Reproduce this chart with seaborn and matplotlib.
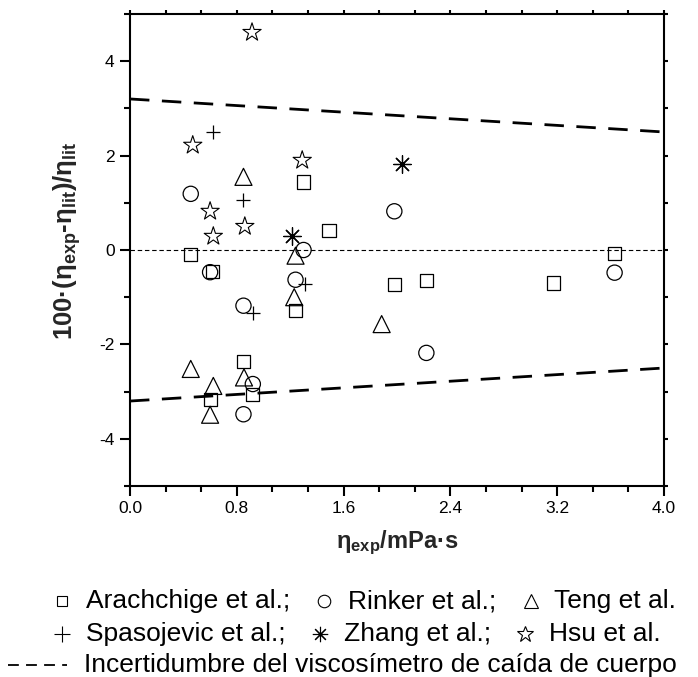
import matplotlib
matplotlib.use("Agg")
import matplotlib.pyplot as plt
from matplotlib.lines import Line2D
import seaborn as sns

# ---------------- data ----------------
arach_x = [0.455, 0.62, 0.60, 0.85, 0.92, 1.24, 1.30, 1.49, 1.98, 2.22, 3.17, 3.63]
arach_y = [-0.10, -0.45, -3.16, -2.37, -3.07, -1.28, 1.44, 0.41, -0.73, -0.65, -0.70, -0.07]

rinker_x = [0.455, 0.60, 0.85, 0.92, 0.85, 1.24, 1.30, 1.98, 2.22, 3.63]
rinker_y = [1.19, -0.47, -1.18, -2.84, -3.48, -0.63, 0.00, 0.82, -2.18, -0.48]

teng_x = [0.455, 0.60, 0.624, 0.85, 0.854, 1.23, 1.24, 1.885]
teng_y = [-2.52, -3.49, -2.88, 1.55, -2.70, -1.00, -0.12, -1.57]

spaso_x = [0.62, 0.85, 0.92, 1.31]
spaso_y = [2.50, 1.05, -1.34, -0.72]

zhang_x = [1.21, 2.04]
zhang_y = [0.29, 1.82]

hsu_x = [0.47, 0.60, 0.624, 0.86, 0.914, 1.29]
hsu_y = [2.22, 0.82, 0.29, 0.50, 4.61, 1.90]

uncert_x = [0.0, 4.0]
uncert_upper = [3.2, 2.5]
uncert_lower = [-3.2, -2.5]
zero_y = [0.0, 0.0]

x_ticks = [0.0, 0.8, 1.6, 2.4, 3.2, 4.0]
y_ticks = [-4, -2, 0, 2, 4]

legend_labels = ["Arachchige et al.;", "Rinker et al.;", "Teng et al.",
                 "Spasojevic et al.;", "Zhang et al.;", "Hsu et al."]
legend_line_label = "Incertidumbre del viscosímetro de caída de cuerpo"

# ---------------- style ----------------
sns.set_style("ticks")
plt.rcParams["font.family"] = ["Liberation Sans", "DejaVu Sans"]
plt.rcParams["mathtext.fontset"] = "custom"
plt.rcParams["mathtext.rm"] = "Liberation Sans"
plt.rcParams["mathtext.it"] = "Liberation Sans:italic"
plt.rcParams["mathtext.bf"] = "Liberation Sans:bold"

W, H = 698.0, 677.0
fig = plt.figure(figsize=(W / 100, H / 100), dpi=100)
ax = fig.add_axes([130 / W, 1 - 486 / H, (664 - 130) / W, (486 - 14) / H])

K = "black"
asterisk = (8, 2, 0)

# reference lines
sns.lineplot(x=uncert_x, y=zero_y, ax=ax, color=K, lw=0.8, zorder=1)
ax.lines[-1].set_dashes((4, 2.5))
sns.lineplot(x=uncert_x, y=uncert_upper, ax=ax, color=K, lw=2.0, zorder=1)
ax.lines[-1].set_dashes((7, 4.5))
sns.lineplot(x=uncert_x, y=uncert_lower, ax=ax, color=K, lw=2.0, zorder=1)
ax.lines[-1].set_dashes((7, 4.5))

# open markers
sns.scatterplot(x=arach_x, y=arach_y, marker="s", s=90, facecolor="none",
                edgecolor=K, linewidth=0.9, ax=ax, zorder=3)
sns.scatterplot(x=rinker_x, y=rinker_y, marker="o", s=120, facecolor="none",
                edgecolor=K, linewidth=0.9, ax=ax, zorder=3)
sns.scatterplot(x=teng_x, y=teng_y, marker="^", s=150, facecolor="none",
                edgecolor=K, linewidth=0.9, ax=ax, zorder=3)
sns.scatterplot(x=hsu_x, y=hsu_y, marker="*", s=190, facecolor="none",
                edgecolor=K, linewidth=0.8, ax=ax, zorder=3)
# line-art markers
sns.scatterplot(x=spaso_x, y=spaso_y, marker="+", s=110, color=K,
                linewidth=0.9, ax=ax, zorder=3)
sns.scatterplot(x=zhang_x, y=zhang_y, marker=asterisk, s=160, color=K,
                linewidth=0.9, ax=ax, zorder=3)

# axes
ax.set_xlim(0, 4.0)
ax.set_ylim(-5, 5)
ax.set_xticks(x_ticks)
ax.set_xticklabels([f"{v:.1f}" for v in x_ticks])
ax.set_yticks(y_ticks)
ax.set_yticklabels([str(v) for v in y_ticks])
ax.set_xticks([i * 0.8 / 3 for i in range(16)], minor=True)
ax.set_yticks([-5, -3, -1, 1, 3, 5], minor=True)

for sp in ax.spines.values():
    sp.set_visible(True)
    sp.set_linewidth(1.5)
    sp.set_color(K)

ax.tick_params(axis="both", which="major", direction="out", length=7, width=1.5,
               labelsize=12.5, colors=K, pad=4)
ax.tick_params(axis="both", which="minor", direction="out", length=4, width=1.5, colors=K)
ax.tick_params(top=True, right=True, which="both")
for t in ax.xaxis.get_major_ticks() + ax.xaxis.get_minor_ticks():
    t.tick2line.set_markersize(3)
for t in ax.yaxis.get_major_ticks() + ax.yaxis.get_minor_ticks():
    t.tick2line.set_markersize(3)

ax.set_xlabel(r"η$_{\mathbf{exp}}$/mPa·s", fontsize=17, fontweight="bold", labelpad=9)
ax.set_ylabel(r"100·(η$_{\mathbf{exp}}$-η$_{\mathbf{lit}}$)/η$_{\mathbf{lit}}$",
              fontsize=18.5, fontweight="bold")
ax.yaxis.set_label_coords(-0.088, 0.519)

# ---------------- custom legend (flowing rows) ----------------
renderer = fig.canvas.get_renderer()
leg_fs = 19


def fx(px):
    return px / W


def fy(py):
    return 1 - py / H


def marker_at(mk, x, y, ms):
    fig.add_artist(Line2D([fx(x)], [fy(y)], marker=mk, markersize=ms,
                          markerfacecolor="none", markeredgecolor=K,
                          markeredgewidth=0.8, color=K, linestyle="none",
                          transform=fig.transFigure))


def row(entries, x0, y, gap_mt=24, gap_tm=34):
    x = x0
    for mk, lab, ms in entries:
        marker_at(mk, x, y, ms)
        t = fig.text(fx(x + gap_mt), fy(y), lab, fontsize=leg_fs, va="center",
                     ha="left", color=K)
        w = t.get_window_extent(renderer).width
        x = x + gap_mt + w + gap_tm


row1, row2, row3 = 601, 634, 665
row([("s", legend_labels[0], 7.5), ("o", legend_labels[1], 9),
     ("^", legend_labels[2], 10)], 62, row1)
row([("+", legend_labels[3], 11), (asterisk, legend_labels[4], 11),
     ("*", legend_labels[5], 12)], 62, row2)

fig.add_artist(Line2D([fx(8), fx(67)], [fy(row3), fy(row3)], color=K, lw=1.3,
                      dashes=(6, 4), transform=fig.transFigure))
fig.text(fx(84), fy(row3), legend_line_label, fontsize=leg_fs, va="center",
         ha="left", color=K)

fig.savefig("out.png", dpi=100)
